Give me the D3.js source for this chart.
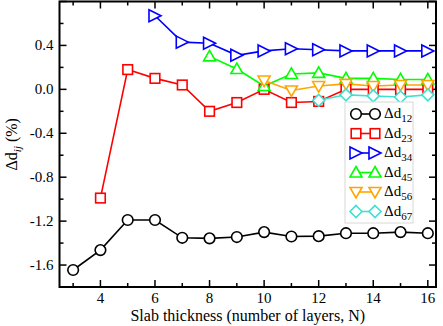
<!DOCTYPE html>
<html><head><meta charset="utf-8">
<script src="https://cdn.jsdelivr.net/npm/d3@7/dist/d3.min.js"></script>
<style>body{margin:0;background:#fff}svg{display:block}text{font-family:"Liberation Serif","Times New Roman",serif}</style>
</head><body>
<script>
const xs12 = [3,4,5,6,7,8,9,10,11,12,13,14,15,16];
const d12 = [-1.645,-1.464,-1.19,-1.19,-1.352,-1.357,-1.345,-1.30,-1.34,-1.337,-1.31,-1.31,-1.30,-1.31];
const xs23 = [4,5,6,7,8,9,10,11,12,13,14,15,16];
const d23 = [-0.99,0.18,0.10,0.04,-0.20,-0.12,0.0,-0.12,-0.11,0.0,0.0,0.0,0.0];
const xs34 = [6,7,8,9,10,11,12,13,14,15,16];
const d34 = [0.67,0.43,0.42,0.31,0.35,0.37,0.36,0.35,0.35,0.35,0.35];
const xs45 = [8,9,10,11,12,13,14,15,16];
const d45 = [0.30,0.185,0.03,0.14,0.15,0.10,0.10,0.09,0.09];
const xs56 = [10,11,12,13,14,15,16];
const d56 = [0.08,-0.01,0.03,0.05,0.03,0.04,0.04];
const xs67 = [12,13,14,15,16];
const d67 = [-0.10,-0.05,-0.06,-0.07,-0.05];
const seriesNames = ["12","23","34","45","56","67"];
const xTickVals = [4,6,8,10,12,14,16];
const yTickVals = [-1.6,-1.2,-0.8,-0.4,0.0,0.4];

const series = [
  {sub:"12", xs:xs12, ys:d12, color:"#000000", sym:"circle"},
  {sub:"23", xs:xs23, ys:d23, color:"#ff0000", sym:"square"},
  {sub:"34", xs:xs34, ys:d34, color:"#0000ff", sym:"right"},
  {sub:"45", xs:xs45, ys:d45, color:"#00ff00", sym:"up"},
  {sub:"56", xs:xs56, ys:d56, color:"#ffa500", sym:"down"},
  {sub:"67", xs:xs67, ys:d67, color:"#40e0d0", sym:"diamond"}
];

const W=443,H=326;
const L=59.5,R=436,T=1.5,B=287;
const svg=d3.select("body").append("svg").attr("width",W).attr("height",H);
const x=d3.scaleLinear().domain([2.5,16.3]).range([L,R]);
const y=d3.scaleLinear().domain([-1.8,0.8]).range([B,T]);

// ticks
const g=svg.append("g").attr("stroke","#000").attr("stroke-width",1.5);
const xMinor=d3.range(3,16.5,1);
xMinor.forEach(v=>{
  const major = v%2===0;
  const len = major?7:4;
  g.append("line").attr("x1",x(v)).attr("x2",x(v)).attr("y1",B).attr("y2",B-len);
  g.append("line").attr("x1",x(v)).attr("x2",x(v)).attr("y1",T).attr("y2",T+len);
});
const yMinor=d3.range(-1.6,0.8,0.2).map(v=>Math.round(v*10)/10);
yMinor.forEach(v=>{
  const major = Math.abs(Math.round(v*10)%4)===0;
  const len = major?7:4;
  g.append("line").attr("y1",y(v)).attr("y2",y(v)).attr("x1",L).attr("x2",L+len);
  g.append("line").attr("y1",y(v)).attr("y2",y(v)).attr("x1",R).attr("x2",R-len);
});

svg.append("rect").attr("x",L).attr("y",T).attr("width",R-L).attr("height",B-T)
  .attr("fill","none").attr("stroke","#000").attr("stroke-width",2);

// tick labels
xTickVals.forEach(v=>{
  svg.append("text").attr("x",x(v)).attr("y",B+16).attr("text-anchor","middle")
    .attr("font-size",15).text(d3.format("d")(v));
});
yTickVals.forEach(v=>{
  svg.append("text").attr("x",L-6).attr("y",y(v)+5).attr("text-anchor","end")
    .attr("font-size",15).text(d3.format(".1f")(v).replace("−","-"));
});

// axis labels
svg.append("text").attr("x",(L+R)/2).attr("y",321).attr("text-anchor","middle")
  .attr("font-size",16).text("Slab thickness (number of layers, N)");
const yl=svg.append("text").attr("transform",`translate(17,${(T+B)/2}) rotate(-90)`)
  .attr("text-anchor","middle").attr("font-size",16);
yl.append("tspan").text("Δd");
yl.append("tspan").attr("font-size",11).attr("font-style","italic").attr("dy",4).text("ij");
yl.append("tspan").attr("dy",-4).text(" (%)");

function drawSym(sel,sym,cx,cy,color){
  const s=5.3;
  let el;
  if(sym==="circle") el=sel.append("circle").attr("cx",cx).attr("cy",cy).attr("r",s);
  else if(sym==="square") el=sel.append("rect").attr("x",cx-s+0.5).attr("y",cy-s+0.5).attr("width",2*s-1).attr("height",2*s-1);
  else {
    let pts;
    const a=6;
    if(sym==="right") pts=[[cx-a,cy-a],[cx+a,cy],[cx-a,cy+a]];
    else if(sym==="up") pts=[[cx,cy-a],[cx+a,cy+a*0.75],[cx-a,cy+a*0.75]];
    else if(sym==="down") pts=[[cx-a,cy-a*0.75],[cx+a,cy-a*0.75],[cx,cy+a]];
    else pts=[[cx,cy-a],[cx+a,cy],[cx,cy+a],[cx-a,cy]];
    el=sel.append("polygon").attr("points",pts.map(p=>p.join(",")).join(" "));
  }
  el.attr("fill","#fff").attr("stroke",color).attr("stroke-width",1.6);
}

const clip=svg.append("g");
series.forEach(s=>{
  const line=d3.line().x((d,i)=>x(s.xs[i])).y(d=>y(d));
  clip.append("path").attr("d",line(s.ys)).attr("fill","none").attr("stroke",s.color).attr("stroke-width",1.6);
});
series.forEach(s=>{
  s.ys.forEach((v,i)=>drawSym(clip,s.sym,x(s.xs[i]),y(v),s.color));
});

// legend
const lg=svg.append("g");
lg.append("rect").attr("x",345).attr("y",102).attr("width",68).attr("height",121)
  .attr("fill","#fff").attr("stroke","#d8d8d8").attr("stroke-width",1);
series.forEach((s,i)=>{
  const cy=114+i*19.5;
  lg.append("line").attr("x1",356).attr("x2",375).attr("y1",cy).attr("y2",cy)
    .attr("stroke",s.color).attr("stroke-width",1.6);
  drawSym(lg,s.sym,356,cy,s.color);
  drawSym(lg,s.sym,375,cy,s.color);
  const t=lg.append("text").attr("x",384).attr("y",cy+4).attr("font-size",15);
  t.append("tspan").text("Δd");
  t.append("tspan").attr("font-size",11).attr("dy",4).text(s.sub);
});
</script>
</body></html>
